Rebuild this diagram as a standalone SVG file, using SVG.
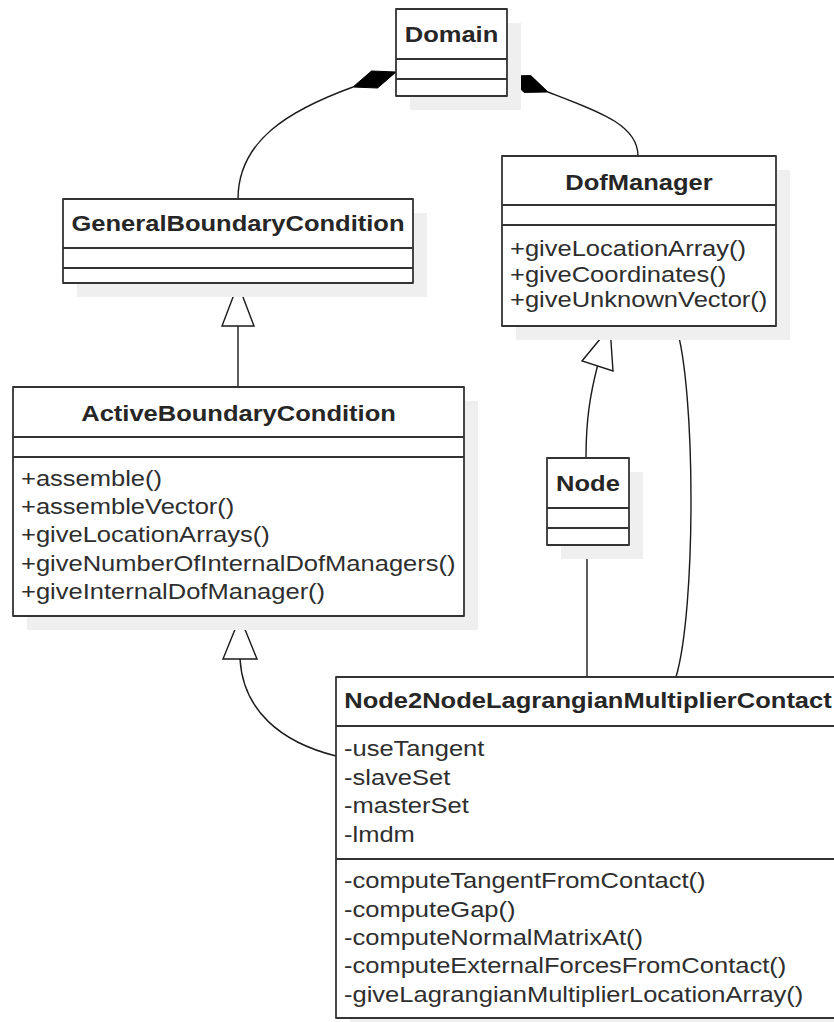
<svg xmlns="http://www.w3.org/2000/svg" width="834" height="1022" viewBox="0 0 834 1022">
  <style>
    .shadow { fill: #efefef; stroke: none; }
    .box { fill: #ffffff; stroke: #333333; stroke-width: 1.8; stroke-linejoin: round; }
    .sep { stroke: #333333; stroke-width: 1.8; fill: none; }
    .edge { fill: none; stroke: #1a1a1a; stroke-width: 1.4; }
    .hollow { fill: #ffffff; stroke: #1a1a1a; stroke-width: 1.4; stroke-linejoin: miter; }
    .solid { fill: #000000; stroke: #000000; stroke-width: 1; stroke-linejoin: miter; }
    .title { font-family: "Liberation Sans", Arial, sans-serif; font-size: 22px; font-weight: bold; fill: #262626; text-anchor: middle; }
    .member { font-family: "Liberation Sans", Arial, sans-serif; font-size: 22px; fill: #2e2e2e; }
  </style>

  <rect x="0" y="0" width="834" height="1022" fill="#ffffff"/>

  <!-- connectors -->
  <g id="connectors">
    <!-- Domain composes GeneralBoundaryCondition -->
    <path class="edge" d="M353,87 C290,110 238,140 238,199"/>
    <polygon class="solid" points="396,72 371.5,71 353,87 377.5,88"/>
    <!-- Domain composes DofManager -->
    <path class="edge" d="M548,92 C600,112 638,125 638,156"/>
    <polygon class="solid" points="507,76 530.8,75.6 548,92 524.2,92.4"/>
    <!-- ActiveBoundaryCondition extends GeneralBoundaryCondition -->
    <path class="edge" d="M238,326 V387"/>
    <polygon class="hollow" points="238,284 222,326 254,326"/>
    <!-- Node extends DofManager -->
    <path class="edge" d="M597.5,366 C590,395 586,420 586,458"/>
    <polygon class="hollow" points="610,327 582,361 613,371"/>
    <!-- Node2NodeLagrangianMultiplierContact extends ActiveBoundaryCondition -->
    <path class="edge" d="M240,659 C243,710 280,742 336,756"/>
    <polygon class="hollow" points="240,617 223,659 257,659"/>
    <!-- associations to Node and DofManager -->
    <path class="edge" d="M587,545 V677"/>
    <path class="edge" d="M676,326 C696,390 696,610 676,677"/>
  </g>

  <!-- Domain -->
  <g id="domain">
    <rect class="shadow" x="410" y="23" width="111" height="87"/>
    <rect class="box" x="396" y="9" width="111" height="87"/>
    <path class="sep" d="M396,59 H507 M396,79 H507"/>
    <text class="title" transform="matrix(1.16 0 0 1 451.5 42)">Domain</text>
  </g>

  <!-- GeneralBoundaryCondition -->
  <g id="general-boundary-condition">
    <rect class="shadow" x="77" y="213" width="350" height="84"/>
    <rect class="box" x="63" y="199" width="350" height="84"/>
    <path class="sep" d="M63,248 H413 M63,268 H413"/>
    <text class="title" transform="matrix(1.16 0 0 1 238 230.5)">GeneralBoundaryCondition</text>
  </g>

  <!-- DofManager -->
  <g id="dof-manager">
    <rect class="shadow" x="516" y="170" width="274" height="170"/>
    <rect class="box" x="502" y="156" width="274" height="170"/>
    <path class="sep" d="M502,205 H776 M502,225 H776"/>
    <text class="title" transform="matrix(1.16 0 0 1 639 189.5)">DofManager</text>
    <text class="member" transform="matrix(1.16 0 0 1 510 255.5)">+giveLocationArray()</text>
    <text class="member" transform="matrix(1.16 0 0 1 510 281.5)">+giveCoordinates()</text>
    <text class="member" transform="matrix(1.16 0 0 1 510 307)">+giveUnknownVector()</text>
  </g>

  <!-- ActiveBoundaryCondition -->
  <g id="active-boundary-condition">
    <rect class="shadow" x="27" y="401" width="451" height="229"/>
    <rect class="box" x="13" y="387" width="451" height="229"/>
    <path class="sep" d="M13,437 H464 M13,457 H464"/>
    <text class="title" transform="matrix(1.16 0 0 1 238.5 420.5)">ActiveBoundaryCondition</text>
    <text class="member" transform="matrix(1.16 0 0 1 21 486)">+assemble()</text>
    <text class="member" transform="matrix(1.16 0 0 1 21 513.5)">+assembleVector()</text>
    <text class="member" transform="matrix(1.16 0 0 1 21 542)">+giveLocationArrays()</text>
    <text class="member" transform="matrix(1.16 0 0 1 21 570.5)">+giveNumberOfInternalDofManagers()</text>
    <text class="member" transform="matrix(1.16 0 0 1 21 599)">+giveInternalDofManager()</text>
  </g>

  <!-- Node -->
  <g id="node">
    <rect class="shadow" x="561" y="472" width="82" height="87"/>
    <rect class="box" x="547" y="458" width="82" height="87"/>
    <path class="sep" d="M547,508 H629 M547,528 H629"/>
    <text class="title" transform="matrix(1.16 0 0 1 588 490.5)">Node</text>
  </g>

  <!-- Node2NodeLagrangianMultiplierContact -->
  <g id="node2node-lagrangian-multiplier-contact">
    <rect class="shadow" x="350" y="691" width="504" height="341"/>
    <rect class="box" x="336" y="677" width="504" height="341"/>
    <path class="sep" d="M336,726 H840 M336,859 H840"/>
    <text class="title" transform="matrix(1.16 0 0 1 588 708)">Node2NodeLagrangianMultiplierContact</text>
    <text class="member" transform="matrix(1.16 0 0 1 344 756)">-useTangent</text>
    <text class="member" transform="matrix(1.16 0 0 1 344 784.5)">-slaveSet</text>
    <text class="member" transform="matrix(1.16 0 0 1 344 813)">-masterSet</text>
    <text class="member" transform="matrix(1.16 0 0 1 344 841.5)">-lmdm</text>
    <text class="member" transform="matrix(1.16 0 0 1 344 888)">-computeTangentFromContact()</text>
    <text class="member" transform="matrix(1.16 0 0 1 344 916.5)">-computeGap()</text>
    <text class="member" transform="matrix(1.16 0 0 1 344 945)">-computeNormalMatrixAt()</text>
    <text class="member" transform="matrix(1.16 0 0 1 344 973)">-computeExternalForcesFromContact()</text>
    <text class="member" transform="matrix(1.16 0 0 1 344 1001.5)">-giveLagrangianMultiplierLocationArray()</text>
  </g>
</svg>
